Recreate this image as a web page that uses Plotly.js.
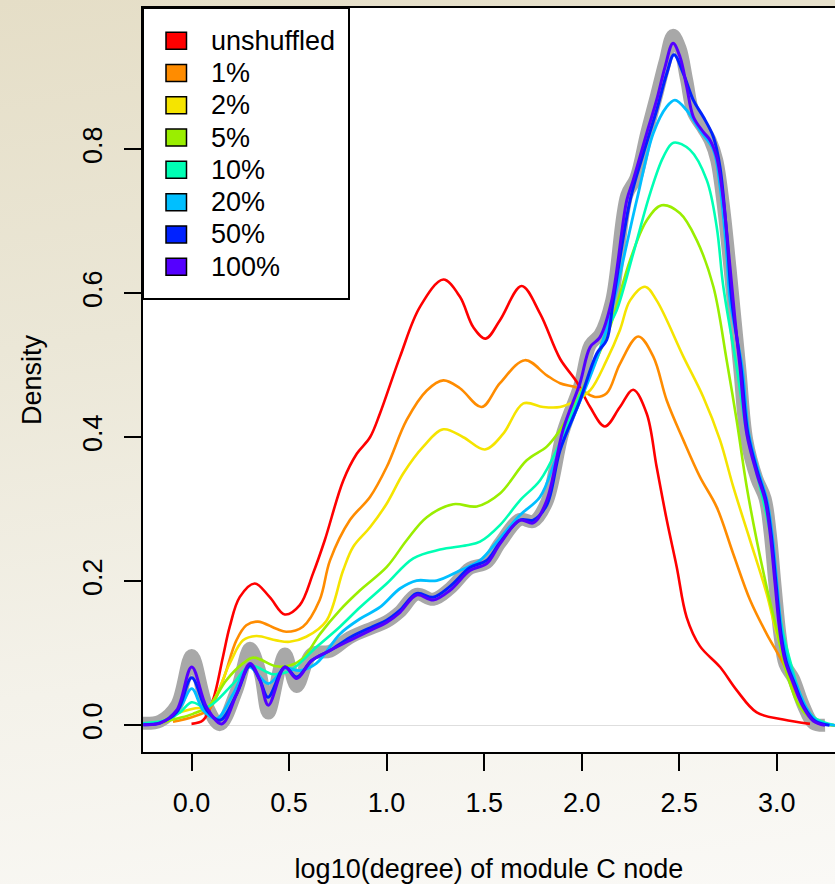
<!DOCTYPE html>
<html><head><meta charset="utf-8">
<script src="https://cdn.plot.ly/plotly-3.0.1.min.js"></script>
<style>
html,body{margin:0;padding:0;}
body{width:835px;height:884px;overflow:hidden;background:linear-gradient(172deg,#e5dec7 0%,#ebe7d7 35%,#f4f2ea 70%,#faf9f6 100%);}
#chart{width:835px;height:884px;}
</style></head><body><div id="chart"></div>
<script>
// ---------- data ----------
const legendLabels = ["unshuffled","1%","2%","5%","10%","20%","50%","100%"];
const seriesColors = ["#ff0000","#ff8c00","#f5e400","#9aee00","#00ffb4","#00bfff","#0022ff","#5500ff"];
const refColor = "#a8a8a8";

const xRef = [-0.25,-0.161,-0.076,0.001,0.078,0.146,0.232,0.300,0.351,0.394,0.479,0.539,0.616,0.710,0.812,0.932,1.0,1.069,1.154,1.239,1.325,1.427,1.513,1.581,1.684,1.752,1.821,1.904,1.991,2.043,2.094,2.154,2.231,2.278,2.333,2.384,2.427,2.468,2.504,2.538,2.572,2.623,2.658,2.692,2.726,2.760,2.786,2.811,2.846,2.897,2.940,2.966,2.991,3.017,3.042,3.085,3.136,3.187,3.247];
const yRef = [0.003,0.006,0.028,0.097,0.028,0.001,0.049,0.107,0.074,0.017,0.099,0.054,0.099,0.103,0.122,0.136,0.144,0.158,0.182,0.175,0.190,0.218,0.226,0.253,0.286,0.283,0.310,0.407,0.472,0.528,0.543,0.590,0.736,0.760,0.822,0.875,0.921,0.958,0.940,0.896,0.851,0.829,0.8125,0.785,0.722,0.635,0.5625,0.493,0.396,0.343,0.315,0.267,0.194,0.124,0.085,0.065,0.028,0.003,0.0];

const xUnshuffled = [0.0,0.059,0.110,0.161,0.196,0.247,0.324,0.401,0.478,0.555,0.623,0.683,0.778,0.847,0.915,0.966,1.069,1.171,1.291,1.376,1.444,1.508,1.581,1.692,1.786,1.889,1.974,2.043,2.119,2.196,2.264,2.333,2.384,2.436,2.487,2.538,2.606,2.709,2.794,2.897,3.033,3.17];
const yUnshuffled = [0.002,0.007,0.035,0.095,0.137,0.178,0.197,0.178,0.154,0.167,0.211,0.257,0.340,0.377,0.400,0.433,0.512,0.581,0.619,0.595,0.553,0.537,0.5625,0.610,0.572,0.509,0.477,0.442,0.415,0.442,0.466,0.433,0.359,0.285,0.220,0.150,0.110,0.081,0.049,0.018,0.008,0.002];

const x1pct = [-0.095,0.008,0.093,0.161,0.230,0.281,0.341,0.435,0.486,0.571,0.657,0.710,0.812,0.915,1.001,1.103,1.206,1.291,1.376,1.487,1.581,1.709,1.821,1.889,1.974,2.068,2.128,2.196,2.290,2.367,2.436,2.521,2.606,2.692,2.777,2.863,2.948,3.033,3.119,3.204,3.298];
const y1pct = [0.005,0.012,0.023,0.0625,0.118,0.139,0.144,0.134,0.130,0.137,0.174,0.229,0.285,0.317,0.359,0.424,0.465,0.479,0.468,0.442,0.475,0.507,0.486,0.475,0.469,0.456,0.461,0.502,0.540,0.512,0.451,0.396,0.345,0.303,0.238,0.174,0.127,0.086,0.035,0.007,0.0];

const x2pct = [-0.16,-0.078,0.008,0.093,0.196,0.264,0.332,0.435,0.503,0.588,0.691,0.777,0.829,0.915,1.001,1.086,1.188,1.291,1.393,1.504,1.598,1.701,1.803,1.889,1.957,2.043,2.128,2.196,2.248,2.325,2.384,2.521,2.623,2.709,2.777,2.863,2.948,3.0,3.068,3.153,3.238,3.298];
const y2pct = [0.004,0.016,0.023,0.028,0.086,0.118,0.124,0.118,0.116,0.123,0.145,0.215,0.248,0.275,0.308,0.350,0.387,0.411,0.400,0.383,0.405,0.447,0.442,0.442,0.449,0.465,0.507,0.549,0.590,0.609,0.590,0.512,0.456,0.396,0.331,0.257,0.183,0.127,0.072,0.021,0.003,0.0];

const x5pct = [-0.16,-0.078,0.008,0.093,0.178,0.264,0.317,0.435,0.503,0.571,0.659,0.761,0.864,1.001,1.103,1.206,1.342,1.462,1.581,1.718,1.821,1.889,1.974,2.059,2.145,2.248,2.333,2.410,2.504,2.589,2.675,2.743,2.794,2.846,2.897,2.948,3.0,3.051,3.119,3.204,3.298];
const y5pct = [0.003,0.009,0.016,0.028,0.0625,0.086,0.094,0.082,0.083,0.093,0.127,0.160,0.1875,0.220,0.257,0.289,0.307,0.304,0.322,0.368,0.387,0.410,0.451,0.498,0.553,0.646,0.701,0.722,0.711,0.674,0.609,0.507,0.424,0.331,0.257,0.192,0.132,0.072,0.025,0.005,0.0];

const x10pct = [-0.249,-0.136,-0.059,0.001,0.078,0.214,0.300,0.419,0.505,0.642,0.761,0.864,1.001,1.137,1.274,1.411,1.479,1.581,1.684,1.786,1.878,1.957,2.059,2.128,2.179,2.264,2.350,2.418,2.470,2.555,2.641,2.692,2.726,2.794,2.846,2.914,2.966,3.0,3.033,3.068,3.119,3.187,3.298];
const y10pct = [0.003,0.007,0.018,0.032,0.025,0.058,0.083,0.071,0.076,0.109,0.137,0.164,0.197,0.232,0.244,0.25,0.255,0.278,0.3125,0.340,0.386,0.4375,0.498,0.549,0.576,0.655,0.738,0.789,0.809,0.799,0.757,0.692,0.609,0.498,0.405,0.331,0.266,0.183,0.127,0.090,0.044,0.0115,0.0];

const x20pct = [-0.248,-0.161,-0.059,0.001,0.060,0.129,0.214,0.295,0.394,0.479,0.555,0.640,0.761,0.864,0.966,1.069,1.154,1.257,1.376,1.479,1.581,1.684,1.786,1.872,1.957,2.043,2.111,2.162,2.282,2.367,2.436,2.478,2.538,2.606,2.675,2.709,2.743,2.760,2.822,2.857,2.909,2.950,2.976,3.001,3.027,3.057,3.099,3.15,3.206,3.298];
const y20pct = [0.002,0.0035,0.025,0.051,0.021,0.009,0.044,0.081,0.058,0.079,0.076,0.086,0.127,0.148,0.164,0.190,0.201,0.201,0.215,0.229,0.260,0.292,0.317,0.373,0.428,0.484,0.535,0.586,0.729,0.822,0.859,0.868,0.854,0.826,0.799,0.748,0.655,0.590,0.498,0.405,0.35,0.3125,0.266,0.197,0.127,0.09,0.058,0.025,0.006,0.0];

const x50pct = [-0.247,-0.161,-0.076,0.001,0.078,0.146,0.232,0.300,0.351,0.392,0.479,0.539,0.616,0.710,0.812,0.932,1.0,1.069,1.154,1.239,1.325,1.427,1.513,1.581,1.684,1.752,1.821,1.889,1.991,2.077,2.128,2.162,2.248,2.316,2.384,2.436,2.473,2.521,2.572,2.623,2.675,2.709,2.743,2.769,2.816,2.852,2.903,2.945,2.971,2.996,3.022,3.047,3.091,3.142,3.196,3.27];
const y50pct = [0.001,0.0035,0.018,0.066,0.021,0.007,0.044,0.083,0.0625,0.039,0.081,0.067,0.090,0.104,0.122,0.1375,0.146,0.160,0.183,0.178,0.193,0.219,0.229,0.254,0.285,0.285,0.306,0.382,0.451,0.516,0.535,0.590,0.729,0.794,0.854,0.905,0.931,0.905,0.868,0.845,0.817,0.775,0.683,0.590,0.498,0.405,0.35,0.3125,0.266,0.197,0.127,0.09,0.058,0.025,0.006,0.0];

const x100pct = [-0.247,-0.161,-0.076,0.001,0.078,0.155,0.232,0.300,0.351,0.394,0.479,0.539,0.616,0.710,0.812,0.932,1.0,1.069,1.154,1.239,1.325,1.427,1.513,1.581,1.684,1.752,1.821,1.904,1.991,2.043,2.094,2.154,2.231,2.264,2.333,2.384,2.427,2.468,2.504,2.538,2.572,2.623,2.658,2.692,2.726,2.760,2.786,2.811,2.846,2.897,2.940,2.966,2.991,3.017,3.042,3.085,3.136,3.187,3.247];
const y100pct = [0.001,0.003,0.021,0.081,0.025,0.002,0.044,0.086,0.0625,0.028,0.081,0.065,0.090,0.104,0.118,0.134,0.143,0.157,0.181,0.174,0.1875,0.215,0.2245,0.252,0.285,0.281,0.3125,0.41,0.475,0.525,0.539,0.590,0.729,0.757,0.822,0.868,0.914,0.947,0.928,0.887,0.845,0.824,0.8125,0.789,0.729,0.637,0.5625,0.498,0.405,0.35,0.3125,0.266,0.197,0.127,0.090,0.058,0.025,0.006,0.0];

const xTickVals = [0,0.5,1,1.5,2,2.5,3];
const xTickText = ["0.0","0.5","1.0","1.5","2.0","2.5","3.0"];
const yTickVals = [0,0.2,0.4,0.6,0.8];
const yTickText = ["0.0","0.2","0.4","0.6","0.8"];

// ---------- build ----------
const seriesX = [xUnshuffled,x1pct,x2pct,x5pct,x10pct,x20pct,x50pct,x100pct];
const seriesY = [yUnshuffled,y1pct,y2pct,y5pct,y10pct,y20pct,y50pct,y100pct];
const widths = [2.6,2.6,2.6,2.6,2.6,2.8,3.0,3.0];

const traces = [{
  x:xRef, y:yRef, type:'scatter', mode:'lines', name:'reference',
  line:{color:refColor,width:13,shape:'spline',smoothing:1}, showlegend:false, hoverinfo:'skip'
}];
for(let i=0;i<seriesX.length;i++){
  traces.push({x:seriesX[i], y:seriesY[i], type:'scatter', mode:'lines', name:legendLabels[i],
    line:{color:seriesColors[i],width:widths[i],shape:'spline',smoothing:1}, showlegend:false});
}

const L=143,T=8,B=752,R=835;
const px = v => (v-L)/(R-L);
const py = v => (B-v)/(B-T);
const FONT = '"Liberation Sans", Arial, Helvetica, sans-serif';
const FS = 27;

const shapes = [
  {type:'rect',xref:'paper',yref:'paper',x0:px(143),x1:px(349),y0:py(299),y1:py(8),
   line:{color:'#000',width:2},fillcolor:'#ffffff',layer:'above'}
];
const annotations = [];
for(let i=0;i<legendLabels.length;i++){
  const cy = 40.7 + i*32.29;
  shapes.push({type:'rect',xref:'paper',yref:'paper',x0:px(166),x1:px(186.5),y0:py(cy+8.5),y1:py(cy-8.5),
    line:{color:'#000',width:1.5},fillcolor:seriesColors[i],layer:'above'});
  annotations.push({xref:'paper',yref:'paper',x:px(209),y:py(cy),xanchor:'left',yanchor:'middle',
    text:legendLabels[i],showarrow:false,font:{family:FONT,size:FS,color:'#000'}});
}

const layout = {
  width:835,height:884,
  margin:{l:L,r:0,t:T,b:884-B,pad:0},
  paper_bgcolor:'rgba(0,0,0,0)',plot_bgcolor:'#ffffff',
  showlegend:false,
  font:{family:FONT,size:FS,color:'#000'},
  xaxis:{range:[(L-191.5)/195.1,(R-191.5)/195.1],tickvals:xTickVals,ticktext:xTickText,
    ticks:'outside',ticklen:17,tickwidth:2,tickcolor:'#000',showgrid:false,zeroline:false,
    showline:true,mirror:true,linecolor:'#000',linewidth:2,ticklabelstandoff:9,
    tickfont:{family:FONT,size:FS,color:'#000'},
    title:{text:'log10(degree) of module C node',font:{family:FONT,size:FS,color:'#000'},standoff:42}},
  yaxis:{range:[-0.037,0.996],tickvals:yTickVals,ticktext:yTickText,tickangle:-90,
    ticks:'outside',ticklen:17,tickwidth:2,tickcolor:'#000',showgrid:false,
    zeroline:true,zerolinecolor:'#dedede',zerolinewidth:1,
    showline:true,mirror:false,linecolor:'#000',linewidth:2,ticklabelstandoff:11,
    tickfont:{family:FONT,size:FS,color:'#000'},
    title:{text:'Density',font:{family:FONT,size:FS,color:'#000'},standoff:29}},
  shapes:shapes,annotations:annotations
};
Plotly.newPlot('chart',traces,layout,{displayModeBar:false,staticPlot:true});
</script></body></html>
